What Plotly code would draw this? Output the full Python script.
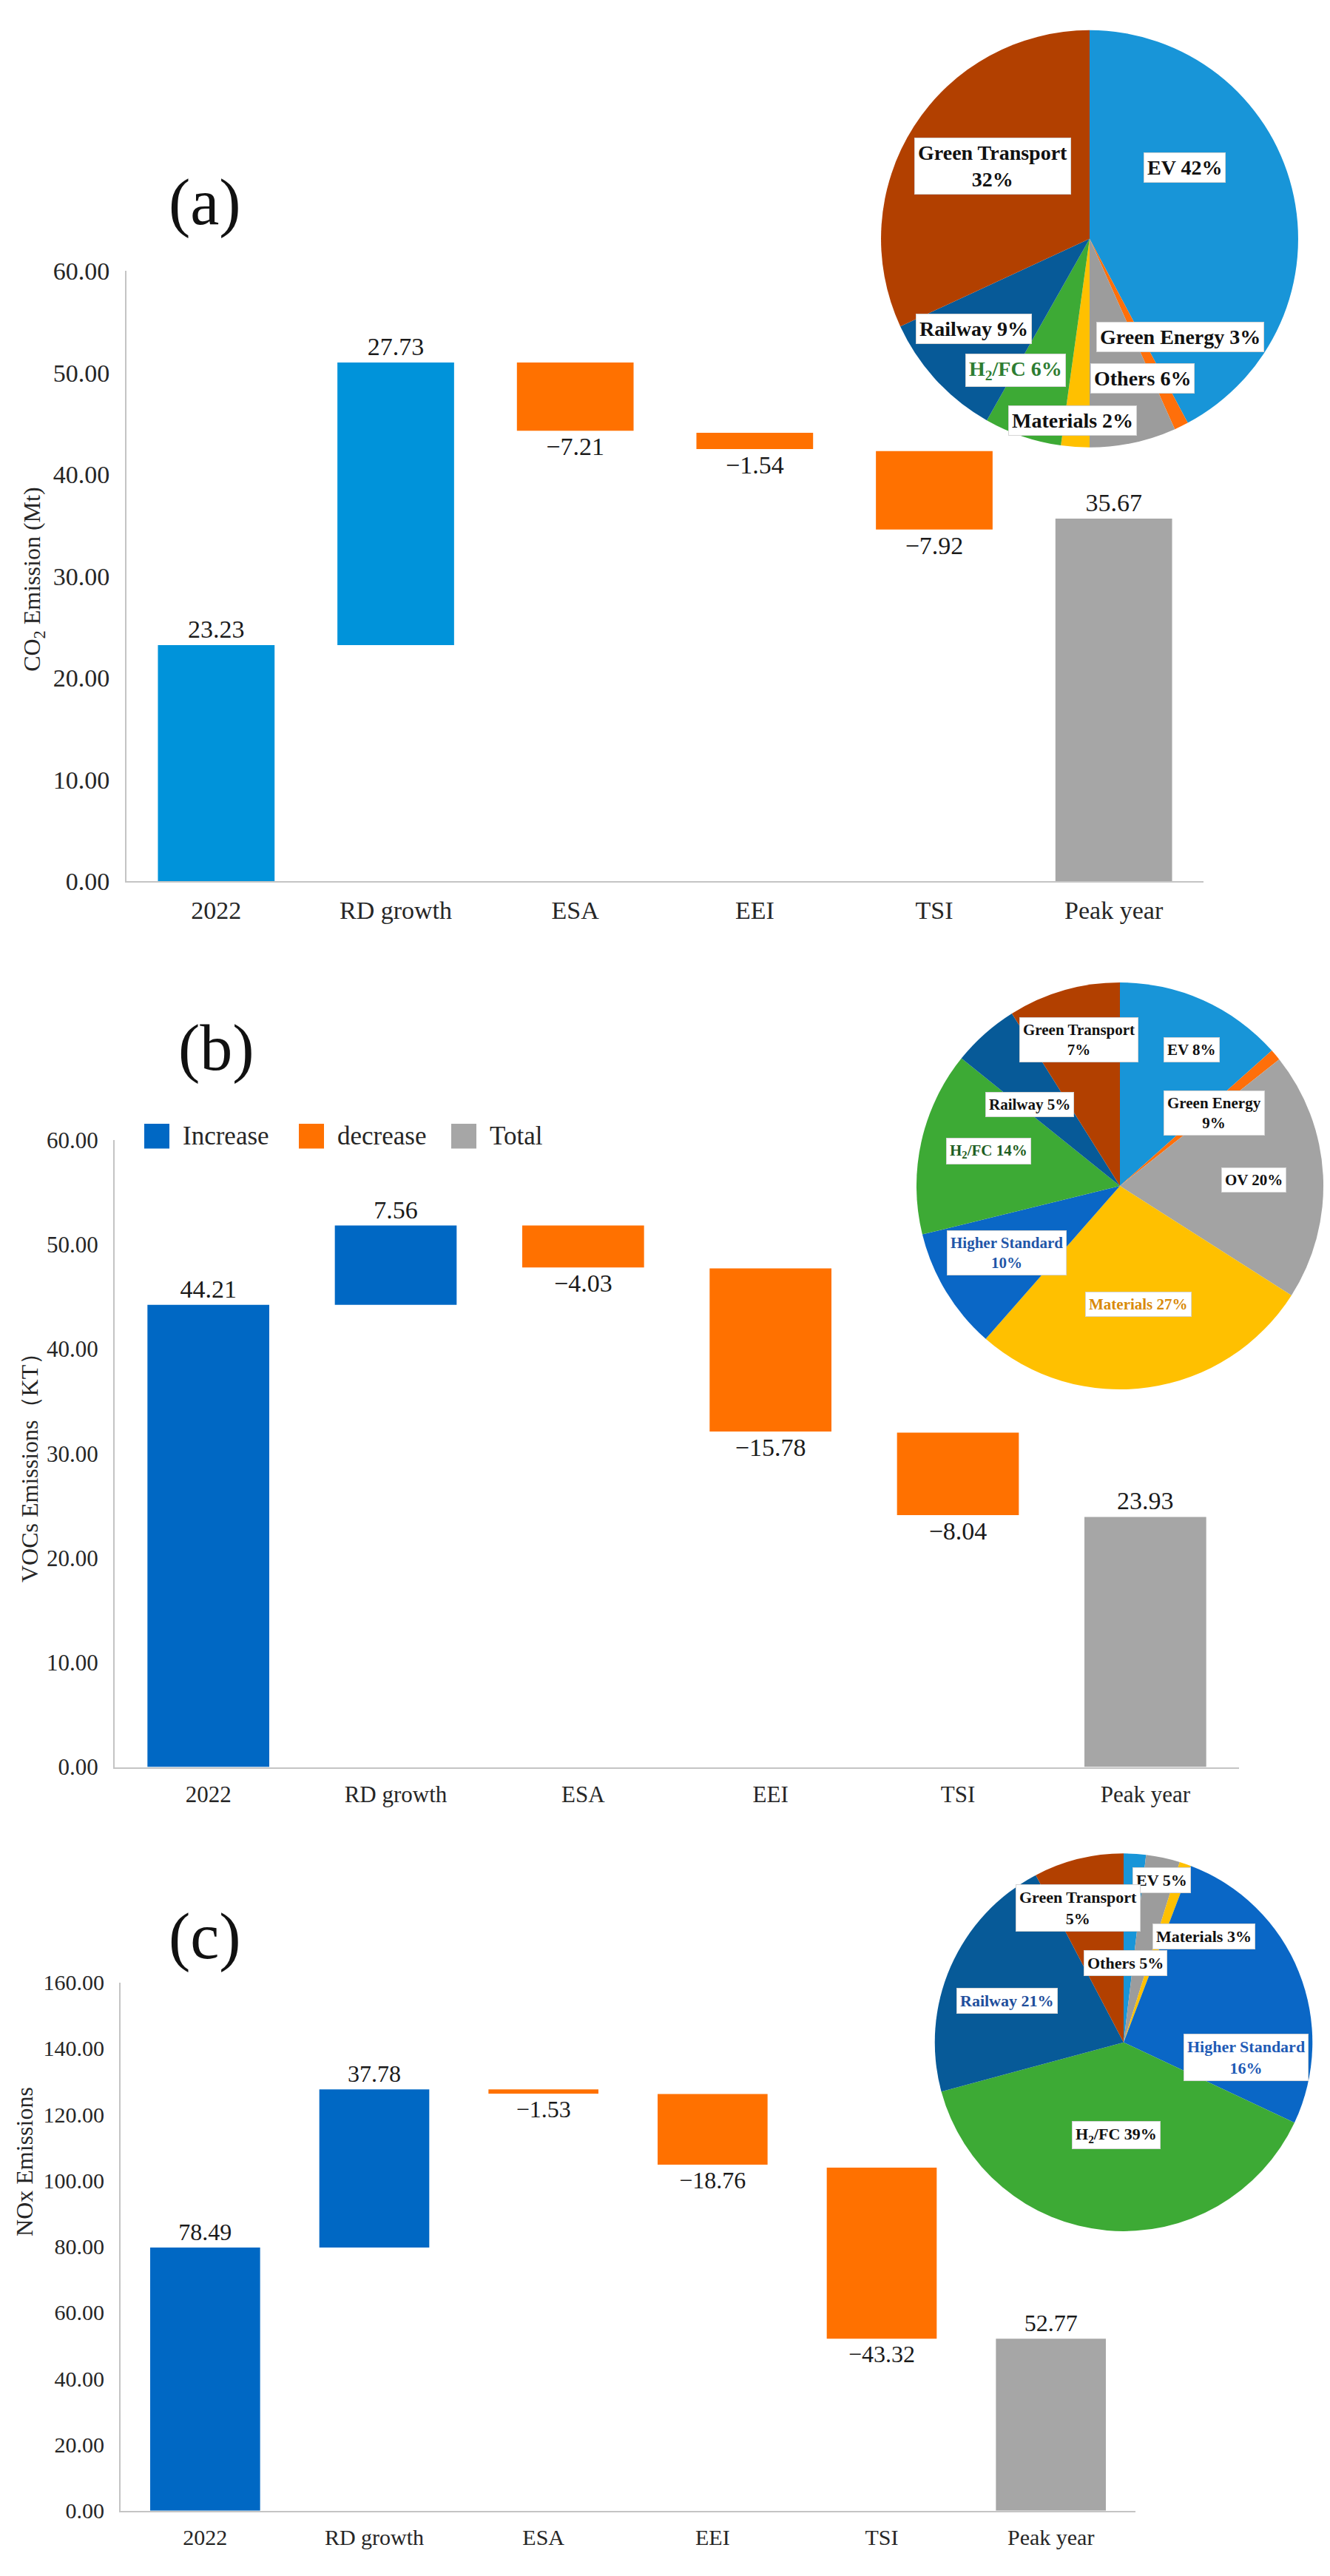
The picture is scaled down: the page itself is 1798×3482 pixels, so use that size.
import plotly.graph_objects as go

W, H = 1798, 3482
FONT = "Times New Roman, Liberation Serif, serif"

steps = ["2022", "RD growth", "ESA", "EEI", "TSI", "Peak year"]
step_kind = ["increase", "increase", "decrease", "decrease", "decrease", "total"]

# bar start / end levels as drawn in the figure, labels as printed on it
co2_start = [0, 23.23, 51.0, 44.1, 42.3, 0]
co2_end = [23.23, 51.0, 44.3, 42.5, 34.6, 35.67]
co2_labels = ["23.23", "27.73", "\u22127.21", "\u22121.54", "\u22127.92", "35.67"]

voc_start = [0, 44.21, 51.8, 47.7, 32.0, 0]
voc_end = [44.21, 51.8, 47.8, 32.1, 24.1, 23.93]
voc_labels = ["44.21", "7.56", "\u22124.03", "\u221215.78", "\u22128.04", "23.93"]

nox_start = [0, 79.7, 127.6, 126.2, 103.9, 0]
nox_end = [79.7, 127.6, 126.3, 104.8, 52.1, 52.1]
nox_labels = ["78.49", "37.78", "\u22121.53", "\u221218.76", "\u221243.32", "52.77"]

# pie slices (share of circle as drawn) and the printed labels
pie_a_names = ["EV", "Green Energy", "Others", "Materials", "H2/FC", "Railway", "Green Transport"]
pie_a_share = [42.2, 1.1, 6.7, 2.2, 6.0, 9.9, 31.9]
pie_a_text = ["EV 42%", "Green Energy 3%", "Others 6%", "Materials 2%",
              "H<sub>2</sub>/FC 6%", "Railway 9%", "Green Transport<br>32%"]

pie_b_names = ["EV", "Green Energy", "OV", "Materials", "Higher Standard", "H2/FC", "Railway", "Green Transport"]
pie_b_share = [13.4, 0.9, 19.7, 27.4, 9.7, 14.6, 5.3, 8.9]
pie_b_text = ["EV 8%", "Green Energy<br>9%", "OV 20%", "Materials 27%",
              "Higher Standard<br>10%", "H<sub>2</sub>/FC 14%", "Railway 5%", "Green Transport<br>7%"]

pie_c_names = ["EV", "Others", "Materials", "Higher Standard", "H2/FC", "Railway", "Green Transport"]
pie_c_share = [1.9, 2.9, 1.0, 26.2, 38.8, 21.5, 7.7]
pie_c_text = ["EV 5%", "Others 5%", "Materials 3%", "Higher Standard<br>16%",
              "H<sub>2</sub>/FC 39%", "Railway 21%", "Green Transport<br>5%"]

slice_color = {
    "EV": "#1895D8", "Green Energy": "#FF6F0A", "Others": "#9C9C9C", "OV": "#A3A3A3",
    "Materials": "#FFC000", "Higher Standard": "#0A67C6", "H2/FC": "#3DAA35",
    "Railway": "#075A98", "Green Transport": "#B24000",
}

# label box offsets from pie centre, in pie radii (x right, y up) and text colour
pie_a_pos = [(0.45, 0.34), (0.43, -0.47), (0.25, -0.67), (-0.08, -0.87),
             (-0.35, -0.63), (-0.55, -0.43), (-0.46, 0.35)]
pie_a_col = ["#111", "#111", "#111", "#111", "#2E7D32", "#111", "#111"]
pie_b_pos = [(0.35, 0.67), (0.46, 0.36), (0.65, 0.03), (0.09, -0.58),
             (-0.55, -0.33), (-0.64, 0.17), (-0.44, 0.40), (-0.20, 0.72)]
pie_b_col = ["#111", "#111", "#111", "#D98A0A", "#1F56A8", "#1E5E22", "#111", "#111"]
pie_c_pos = [(0.20, 0.86), (0.01, 0.42), (0.42, 0.56), (0.64, -0.08),
             (-0.04, -0.49), (-0.61, 0.22), (-0.24, 0.71)]
pie_c_col = ["#111", "#111", "#111", "#1F5BB5", "#111", "#1F4E9C", "#111"]


def fx(x):
    return x / W


def fy(y):
    return 1 - y / H


def note(text, x, y, **kw):
    # paper-placed text, always centred on its point
    d = dict(text=text, x=fx(x), y=fy(y), xref="paper", yref="paper",
             xanchor="center", yanchor="middle", showarrow=False)
    d.update(kw)
    return d


panels = [
    dict(start=co2_start, end=co2_end, labels=co2_labels, ymax=60, dtick=10,
         x0=163, x1=1619, ybot=1178, ytop=344, up="#0093DA", font=34, vfont=34,
         title="CO<sub>2</sub> Emission (Mt)", title_xy=(38, 766), tag="(a)", tag_xy=(269, 250),
         pie=(pie_a_names, pie_a_share, pie_a_text, pie_a_pos, pie_a_col, 1465, 300, 285, 28)),
    dict(start=voc_start, end=voc_end, labels=voc_labels, ymax=60, dtick=10,
         x0=147, x1=1667, ybot=2388, ytop=1531, up="#0068C4", font=31, vfont=34,
         title="VOCs Emissions\uff08KT\uff09", title_xy=(32, 1971), tag="(b)", tag_xy=(284, 1405),
         pie=(pie_b_names, pie_b_share, pie_b_text, pie_b_pos, pie_b_col, 1506, 1594, 278, 21)),
    dict(start=nox_start, end=nox_end, labels=nox_labels, ymax=160, dtick=20,
         x0=155, x1=1527, ybot=3404, ytop=2682, up="#0068C4", font=30, vfont=32,
         title="NOx Emissions", title_xy=(25, 2927), tag="(c)", tag_xy=(269, 2619),
         pie=(pie_c_names, pie_c_share, pie_c_text, pie_c_pos, pie_c_col, 1511, 2764, 258, 22)),
]

fig = go.Figure()
annotations = []
shapes = []
layout = {}

for i, p in enumerate(panels, start=1):
    sfx = "" if i == 1 else str(i)
    kind_color = {"increase": p["up"], "decrease": "#FF7100", "total": "#A6A6A6"}
    fig.add_trace(go.Bar(
        x=steps, y=[e - s for s, e in zip(p["start"], p["end"])], base=p["start"],
        marker=dict(color=[kind_color[k] for k in step_kind], line_width=0),
        width=0.65, text=p["labels"], textposition="outside", constraintext="none",
        cliponaxis=False, textfont=dict(family=FONT, size=p["vfont"], color="#1a1a1a"),
        xaxis="x" + sfx, yaxis="y" + sfx, showlegend=False, hoverinfo="skip"))

    layout["xaxis" + sfx] = dict(
        domain=[fx(p["x0"]), fx(p["x1"])], anchor="y" + sfx, showgrid=False,
        showline=True, linecolor="#C4C4C4", linewidth=2, ticks="", ticklabelstandoff=8,
        tickfont=dict(family=FONT, size=p["font"], color="#262626"), fixedrange=True)
    layout["yaxis" + sfx] = dict(
        domain=[fy(p["ybot"]), fy(p["ytop"])], anchor="x" + sfx, range=[0, p["ymax"]],
        dtick=p["dtick"], tickformat=".2f", showgrid=False, zeroline=False,
        showline=True, linecolor="#C4C4C4", linewidth=2, ticks="", ticklabelstandoff=14,
        tickfont=dict(family=FONT, size=p["font"], color="#262626"))

    annotations.append(note(p["title"], *p["title_xy"], textangle=-90,
                            font=dict(family=FONT, size=32, color="#262626")))
    annotations.append(note(p["tag"], *p["tag_xy"],
                            font=dict(family=FONT, size=88, color="#111")))

    names, share, text, pos, col, cx, cy, r, lfont = p["pie"]
    fig.add_trace(go.Pie(
        labels=names, values=share, sort=False, direction="clockwise", rotation=0,
        textinfo="none", hoverinfo="skip", showlegend=False,
        marker=dict(colors=[slice_color[n] for n in names], line=dict(width=0)),
        domain=dict(x=[fx(cx - r), fx(cx + r)], y=[fy(cy + r), fy(cy - r)])))
    for t, (dx, dy), c in zip(text, pos, col):
        annotations.append(note("<b>" + t + "</b>", cx + dx * r, cy - dy * r,
                                bgcolor="white", bordercolor="#D5D5D5", borderwidth=1,
                                borderpad=4, font=dict(family=FONT, size=lfont, color=c)))

# legend of panel (b)
legend_items = [("Increase", "#0068C4", 187), ("decrease", "#FF7100", 396), ("Total", "#A6A6A6", 602)]
for name, color, lx in legend_items:
    shapes.append(dict(type="rect", xref="paper", yref="paper",
                       x0=fx(lx), x1=fx(lx + 34), y0=fy(1543), y1=fy(1509),
                       fillcolor=color, line_width=0))
    annotations.append(note(name, lx + 50, 1526, xanchor="left",
                            font=dict(family=FONT, size=35, color="#262626")))

fig.update_layout(
    width=W, height=H, margin=dict(l=0, r=0, t=0, b=0),
    paper_bgcolor="white", plot_bgcolor="white",
    annotations=annotations, shapes=shapes, **layout)

fig.write_html("out.html")
